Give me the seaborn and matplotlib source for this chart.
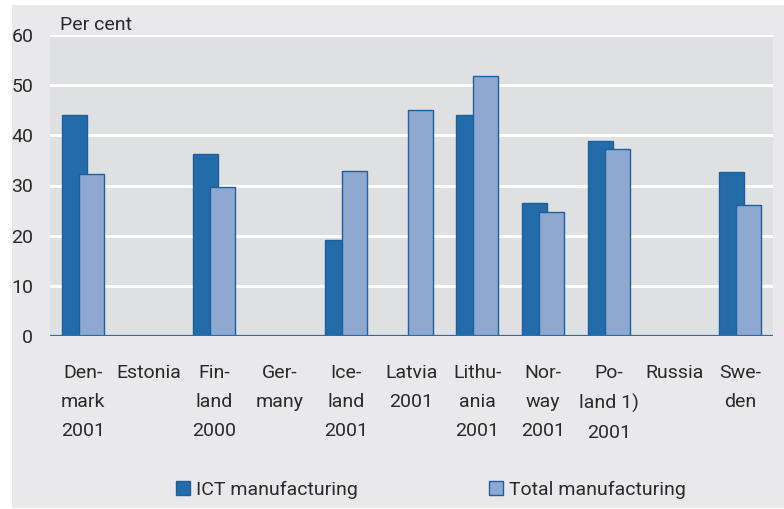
import numpy as np
import pandas as pd
import matplotlib
matplotlib.use("Agg")
import matplotlib.pyplot as plt
from matplotlib.patches import Rectangle, Patch
import seaborn as sns

# Share of value added, per cent
countries = ["Den-\nmark\n2001", "Estonia", "Fin-\nland\n2000", "Ger-\nmany",
             "Ice-\nland\n2001", "Latvia\n2001", "Lithu-\nania\n2001",
             "Nor-\nway\n2001", "Po-\nland 1)\n2001", "Russia", "Swe-\nden"]
ict_manufacturing = [44.0, np.nan, 36.3, np.nan, 19.1, np.nan, 44.0,
                     26.6, 38.8, np.nan, 32.6]
total_manufacturing = [32.2, np.nan, 29.8, np.nan, 32.9, 45.0, 51.8,
                       24.8, 37.2, np.nan, 26.2]
series_names = ["ICT manufacturing", "Total manufacturing"]
y_ticks = [0, 10, 20, 30, 40, 50, 60]

sns.set_theme(style="white")
plt.rcParams["font.family"] = ["Roboto", "DejaVu Sans"]
plt.rcParams["font.stretch"] = "condensed"

FIG_BG = "#e9e9eb"
AX_BG = "#dfe0e2"
DARK = "#236ca9"
LIGHT = "#8fa8d0"
EDGE = "#1d5f9f"
TEXT = "#2a2a2a"
FS = 14

fig = plt.figure(figsize=(7.84, 5.09), dpi=100, facecolor="white")
fig.patches.append(Rectangle((12 / 784, 1 / 509), 1 - 12 / 784, 503 / 509,
                             transform=fig.transFigure, facecolor=FIG_BG,
                             edgecolor="none", zorder=-10))

ax = fig.add_axes([50 / 784, 1 - 336 / 509, 723 / 784, 301 / 509])
ax.set_facecolor(AX_BG)

idx = np.arange(len(countries))
offset = 0.13
bar_w = 0.38

df_ict = pd.DataFrame({"x": idx - offset, "value": ict_manufacturing})
df_tot = pd.DataFrame({"x": idx + offset, "value": total_manufacturing})

sns.barplot(data=df_ict, x="x", y="value", native_scale=True, width=bar_w,
            color=DARK, saturation=1, edgecolor=EDGE, linewidth=1.0,
            errorbar=None, ax=ax, zorder=3)
sns.barplot(data=df_tot, x="x", y="value", native_scale=True, width=bar_w,
            color=LIGHT, saturation=1, edgecolor=EDGE, linewidth=1.0,
            errorbar=None, ax=ax, zorder=4)

ax.set_xlim(-0.5, len(countries) - 0.5)
ax.set_ylim(0, 60)
ax.set_yticks(y_ticks)
ax.set_yticklabels([str(v) for v in y_ticks], fontsize=FS, color=TEXT)
ax.set_xticks(idx)
ax.set_xticklabels(countries, fontsize=FS, color=TEXT, linespacing=1.8,
                   ha="center", va="top")
ax.tick_params(axis="x", length=0, pad=20)
ax.tick_params(axis="y", length=0, pad=12)
for sp in ax.spines.values():
    sp.set_visible(False)
for v in y_ticks[1:]:
    ax.axhline(v, color="white", lw=2.2, zorder=1)
ax.axhline(0, color="#2a6cad", lw=1.6, zorder=5)
ax.set_xlabel("")
ax.set_ylabel("")

fig.text(60 / 784, 1 - 25 / 509, "Per cent", fontsize=FS, color=TEXT,
         ha="left", va="center")

# one legend entry per series, each anchored at its own left edge
fills = [DARK, LIGHT]
anchors = [176 / 784, 489 / 784]
for name, fc, x0 in zip(series_names, fills, anchors):
    leg = fig.legend([Patch(facecolor=fc, edgecolor=EDGE, lw=1.0)], [name],
                     loc="center left", bbox_to_anchor=(x0, 1 - 490 / 509),
                     frameon=False, fontsize=FS, handlelength=0.72,
                     handleheight=0.72, handletextpad=0.3, borderpad=0,
                     borderaxespad=0, labelcolor=TEXT)

fig.savefig("out.png", dpi=100, facecolor="white")
